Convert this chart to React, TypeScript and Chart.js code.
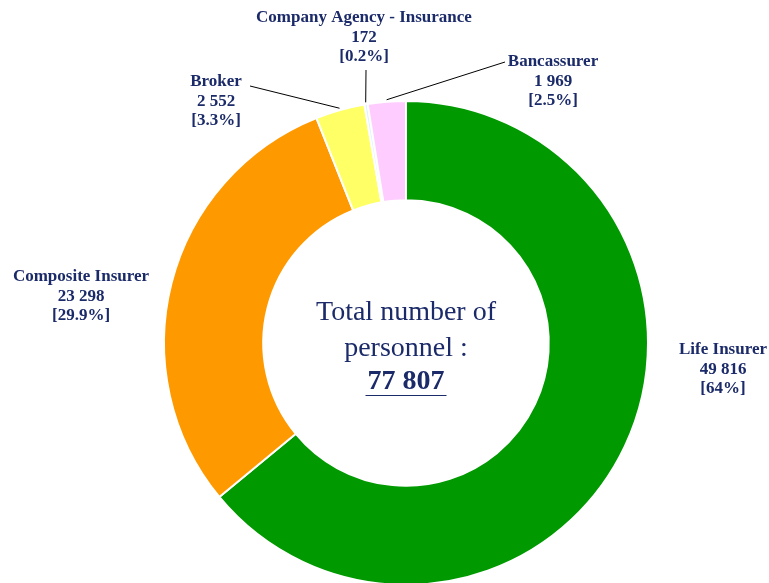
import React, { useEffect, useRef } from "react";
import { Chart, registerables } from "chart.js";

Chart.register(...registerables);

const categories = ["Life Insurer", "Composite Insurer", "Broker", "Company Agency - Insurance", "Bancassurer"];
const values = [49816, 23298, 2552, 172, 1969];
const valueLabels = ["49 816", "23 298", "2 552", "172", "1 969"];
const percentLabels = ["[64%]", "[29.9%]", "[3.3%]", "[0.2%]", "[2.5%]"];
const colors = ["#009900", "#FF9900", "#FFFF66", "#DDF4FF", "#FFCCFF"];
const totalLabel = "77 807";
const centerLines = ["Total number of", "personnel :"];

// label layout: text block centre (x, first line y) and optional leader end point
const labelPos = [
  { x: 723, y: 350, leader: null },
  { x: 81, y: 277, leader: null },
  { x: 216, y: 82, leader: { x: 250, y: 86 } },
  { x: 364, y: 18, leader: { x: 366, y: 70 } },
  { x: 553, y: 62, leader: { x: 505, y: 62 } },
];

const TEXT = "#1B2A68";
const FONT = '"Liberation Serif", "Times New Roman", serif';

const labelPlugin = {
  id: "labels",
  afterDraw(chart: any) {
    const ctx = chart.ctx;
    const meta = chart.getDatasetMeta(0);
    ctx.save();
    meta.data.forEach((arc: any, i: number) => {
      const p = labelPos[i];
      const lp = p.leader;
      if (lp) {
        const mid = (arc.startAngle + arc.endAngle) / 2;
        const r = arc.outerRadius + 2;
        const sx = arc.x + Math.cos(mid) * r;
        const sy = arc.y + Math.sin(mid) * r;
        ctx.strokeStyle = "#000";
        ctx.lineWidth = 1;
        ctx.beginPath();
        ctx.moveTo(lp.x, lp.y);
        ctx.lineTo(sx, sy);
        ctx.stroke();
      }
      ctx.fillStyle = TEXT;
      ctx.font = `bold 17px ${FONT}`;
      ctx.textAlign = "center";
      ctx.textBaseline = "middle";
      ctx.fillText(categories[i], p.x, p.y);
      ctx.fillText(valueLabels[i], p.x, p.y + 19.5);
      ctx.fillText(percentLabels[i], p.x, p.y + 39);
    });
    const a0 = meta.data[0];
    const cx = a0.x;
    const cy = a0.y;
    ctx.font = `28px ${FONT}`;
    ctx.fillStyle = TEXT;
    ctx.fillText(centerLines[0], cx, cy - 30);
    ctx.fillText(centerLines[1], cx, cy + 6);
    ctx.font = `bold 28px ${FONT}`;
    ctx.fillText(totalLabel, cx, cy + 39);
    const w = ctx.measureText(totalLabel).width;
    ctx.strokeStyle = TEXT;
    ctx.lineWidth = 1;
    ctx.beginPath();
    ctx.moveTo(cx - w / 2 - 2, cy + 52.5);
    ctx.lineTo(cx + w / 2 + 2, cy + 52.5);
    ctx.stroke();
    ctx.restore();
  },
};

export default function App() {
  const ref = useRef<HTMLCanvasElement>(null);
  useEffect(() => {
    document.body.style.margin = "0";
    const chart = new Chart(ref.current as HTMLCanvasElement, {
      type: "doughnut",
      data: {
        labels: categories,
        datasets: [
          {
            data: values,
            backgroundColor: colors,
            borderColor: "#ffffff",
            borderWidth: 2,
          },
        ],
      },
      options: {
        animation: false,
        responsive: false,
        cutout: "59%",
        layout: { padding: { top: 100, bottom: 14, left: 163, right: 120 } },
        plugins: { legend: { display: false }, tooltip: { enabled: false } },
      },
      plugins: [labelPlugin],
    });
    return () => chart.destroy();
  }, []);
  return (
    <div style={{ position: "absolute", left: 0, top: 0, width: 769, height: 600 }}>
      <canvas ref={ref} width={769} height={600} style={{ display: "block" }} />
    </div>
  );
}
